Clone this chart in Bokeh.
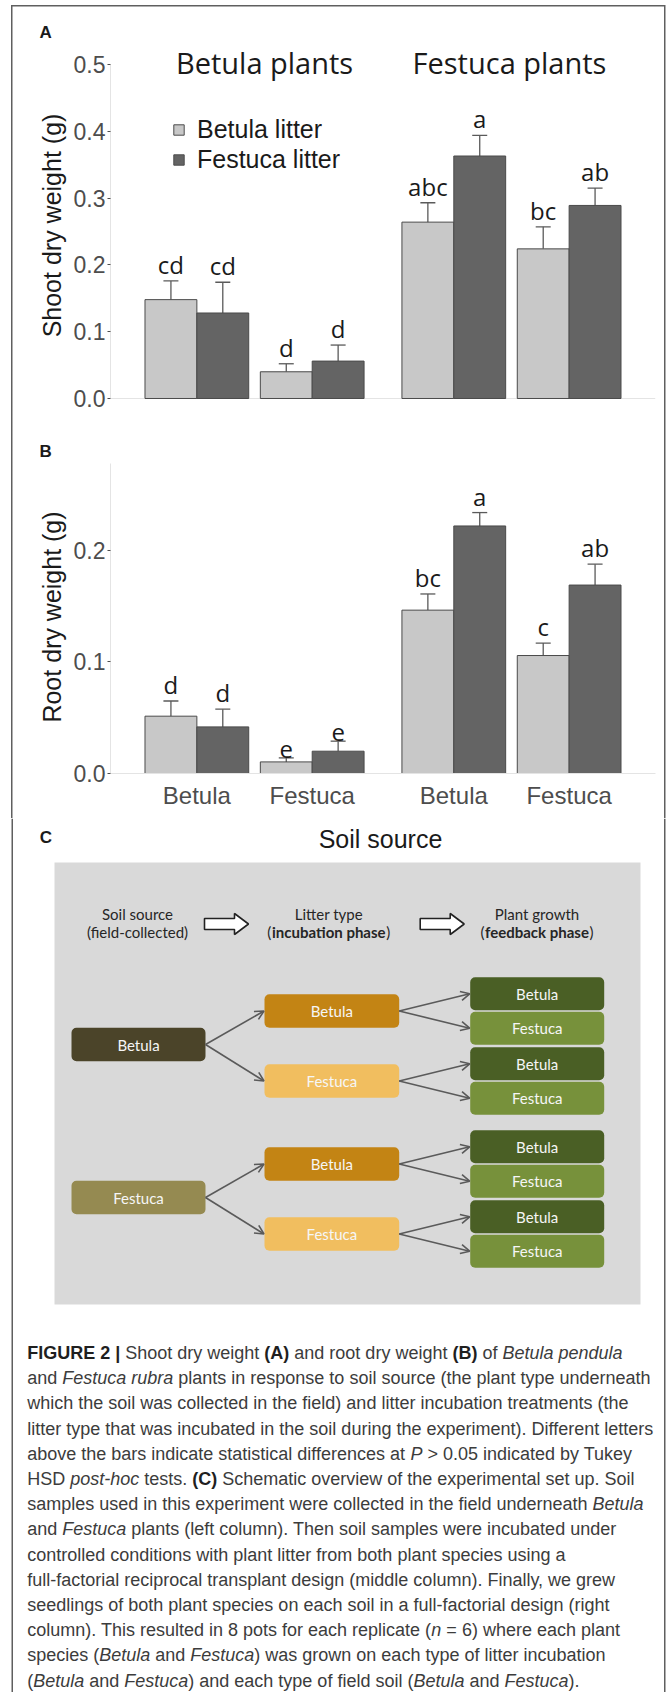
import math
from bokeh.plotting import figure
from bokeh.models import (ColumnDataSource, FactorRange, Range1d, FixedTicker, Legend,
                          LegendItem, Whisker, TeeHead, Arrow, OpenHead, Span, Title,
                          NumeralTickFormatter)
from bokeh.transform import dodge
from bokeh.core.properties import value
from bokeh.embed import file_html
from bokeh.resources import INLINE

# ---------------- data ----------------
plants = ["Betula plants", "Festuca plants"]
soils = ["Betula", "Festuca"]
litter_types = ["Betula litter", "Festuca litter"]

shoot_betula = [0.148, 0.040, 0.264, 0.224]
shoot_betula_se = [0.028, 0.012, 0.029, 0.033]
shoot_festuca = [0.128, 0.056, 0.363, 0.289]
shoot_festuca_se = [0.046, 0.024, 0.031, 0.026]
shoot_letters_betula = ["cd", "d", "abc", "bc"]
shoot_letters_festuca = ["cd", "d", "a", "ab"]
shoot_ticks = [0.0, 0.1, 0.2, 0.3, 0.4, 0.5]
shoot_axis_top = 0.5

root_betula = [0.0514, 0.0104, 0.1465, 0.1058]
root_betula_se = [0.0136, 0.0036, 0.0145, 0.0112]
root_festuca = [0.0418, 0.0200, 0.2220, 0.1690]
root_festuca_se = [0.0159, 0.0090, 0.0120, 0.0187]
root_letters_betula = ["d", "e", "bc", "c"]
root_letters_festuca = ["d", "e", "a", "ab"]
root_ticks = [0.0, 0.1, 0.2]
root_axis_top = 0.278

# ---------------- styles ----------------
LIGHT = "#c8c8c8"
DARK = "#646464"
EDGE = "#4a4a4a"
ERR = "#5a5a5a"
TICK = "#4d4d4d"
INK = "#1a1a1a"
AXLINE = "#e4e4e4"
FRAME = "#5f5f5f"
FIG_W = 667

factors = [(pl, so) for pl in plants for so in soils]
OFF = 0.2473
BW = 0.4946


def frame_css(with_top):
    g = f"linear-gradient({FRAME},{FRAME})"
    top = "5px" if with_top else "0px"
    hh = "calc(100% - 5px)" if with_top else "100%"
    imgs = [g, g]
    sizes = [f"1.5px {hh}", f"1.5px {hh}"]
    poss = [f"11px {top}", f"663.5px {top}"]
    if with_top:
        imgs.append(g)
        sizes.append("654px 1.5px")
        poss.append("11px 5px")
    return {"background-image": ", ".join(imgs), "background-size": ", ".join(sizes),
            "background-position": ", ".join(poss), "background-repeat": "no-repeat"}


def make_xrange():
    return FactorRange(factors=factors, factor_padding=0.1, group_padding=0.3504,
                       range_padding=0.3236, range_padding_units="absolute")


def add_bars(p, light, light_se, dark, dark_se, lab_l, lab_d):
    src = ColumnDataSource(dict(
        x=factors, light=light, dark=dark,
        light_top=[v + e for v, e in zip(light, light_se)],
        dark_top=[v + e for v, e in zip(dark, dark_se)],
        lab_l=lab_l, lab_d=lab_d))
    rl = p.vbar(x=dodge('x', -OFF, range=p.x_range), top='light', width=BW, source=src,
                fill_color=LIGHT, line_color=EDGE, line_width=1)
    rd = p.vbar(x=dodge('x', OFF, range=p.x_range), top='dark', width=BW, source=src,
                fill_color=DARK, line_color=EDGE, line_width=1)
    for o, lo, hi, lab in ((-OFF, 'light', 'light_top', 'lab_l'), (OFF, 'dark', 'dark_top', 'lab_d')):
        p.add_layout(Whisker(source=src, base=dodge('x', o, range=p.x_range), lower=lo, upper=hi,
                             lower_head=None,
                             upper_head=TeeHead(size=15, line_color=ERR, line_width=1.3),
                             line_color=ERR, line_width=1.3))
        p.text(x=dodge('x', o, range=p.x_range), y=hi, text=lab, source=src,
               text_align='center', text_baseline='bottom', text_font=value("Open Sans"),
               text_font_size="24px", text_color=INK)
    return rl, rd


def style_y(p, ticks, top):
    ax = p.yaxis[0]
    ax.ticker = FixedTicker(ticks=ticks)
    ax.formatter = NumeralTickFormatter(format="0.0")
    ax.bounds = (0, top)
    ax.axis_line_color = AXLINE
    ax.axis_line_width = 1
    ax.major_tick_out = 3
    ax.major_tick_in = 0
    ax.major_tick_line_color = TICK
    ax.minor_tick_line_color = None
    ax.major_label_text_font = "Liberation Sans"
    ax.major_label_text_font_size = "23px"
    ax.major_label_text_color = TICK
    ax.major_label_standoff = 2


def panel_letter(p, letter, standoff):
    p.title.text = letter
    p.title.align = "left"
    p.title.offset = -71
    p.title.standoff = standoff
    p.title.vertical_align = "bottom"
    p.title.text_font = "Liberation Sans"
    p.title.text_font_size = "17px"
    p.title.text_font_style = "bold"
    p.title.text_color = INK


def y_title(p, text, offset):
    p.add_layout(Title(text=text, align="center", offset=offset, text_font="Liberation Sans",
                       text_font_size="25px", text_font_style="normal", text_color=INK,
                       standoff=10), 'left')


def base_fig(height, y_range, with_top, **kw):
    p = figure(width=FIG_W, height=height, x_range=make_xrange(), y_range=y_range,
               output_backend="svg", toolbar_location=None, title="",
               min_border_left=110, min_border_right=12,
               outline_line_color=None, **kw)
    p.grid.visible = False
    p.background_fill_alpha = 0
    p.border_fill_alpha = 0
    p.styles = frame_css(with_top)
    return p


# ---------------- panel A (page y 0..412, frame 38..412) ----------------
pA = base_fig(412, Range1d(-0.02096, 0.5389), True, x_axis_location=None,
              min_border_top=38, min_border_bottom=0)
style_y(pA, shoot_ticks, shoot_axis_top)
panel_letter(pA, "A", -7)
y_title(pA, "Shoot dry weight (g)", -24.5)
pA.add_layout(Span(location=0, dimension='width', line_color=AXLINE, line_width=1, level='underlay'))
rl, rd = add_bars(pA, shoot_betula, shoot_betula_se, shoot_festuca, shoot_festuca_se,
                  shoot_letters_betula, shoot_letters_festuca)
pA.text(x=plants, y=[0.5034, 0.5034], text=plants, x_offset=[10, -2],
        text_align='center', text_baseline='alphabetic', text_font=value("Open Sans"),
        text_font_size="29px", text_color=INK)
legend = Legend(items=[LegendItem(label=litter_types[0], renderers=[rl]),
                       LegendItem(label=litter_types[1], renderers=[rd])],
                location=(62, 238), orientation="vertical", background_fill_alpha=0,
                border_line_color=None, glyph_width=13, glyph_height=13, label_standoff=12,
                label_text_font="Liberation Sans", label_text_font_size="25px",
                label_text_color=INK, padding=0, margin=0, spacing=1)
pA.add_layout(legend, 'center')

# ---------------- panel B (page y 412..818, frame 460..773) ----------------
pB = base_fig(406, Range1d(0, 0.2807), False, x_axis_location="below",
              min_border_top=48, min_border_bottom=45)
style_y(pB, root_ticks, root_axis_top)
panel_letter(pB, "B", 0)
y_title(pB, "Root dry weight (g)", -33.5)
add_bars(pB, root_betula, root_betula_se, root_festuca, root_festuca_se,
         root_letters_betula, root_letters_festuca)
xa = pB.xaxis[0]
xa.axis_line_color = AXLINE
xa.major_tick_line_color = None
xa.major_tick_out = 0
xa.major_tick_in = 0
xa.major_label_standoff = 8
xa.major_label_text_font = "Liberation Sans"
xa.major_label_text_font_size = "24px"
xa.major_label_text_color = TICK
xa.group_text_font_size = "1px"
xa.group_text_color = None
xa.separator_line_color = None

# ---------------- panel C (schematic) + caption, page-pixel coordinates ----------------
C_TOP, C_BOT = 818, 1692
pC = figure(width=FIG_W, height=C_BOT - C_TOP, x_range=Range1d(0, FIG_W),
            y_range=Range1d(C_BOT, C_TOP), output_backend="svg", toolbar_location=None,
            x_axis_location=None, y_axis_location=None, min_border=0, outline_line_color=None)
pC.grid.visible = False

# outer frame lines continuing down the page
pC.segment(x0=[11.75, 664.25], y0=[C_TOP, C_TOP], x1=[11.75, 664.25], y1=[C_BOT, C_BOT],
           line_color=FRAME, line_width=1.5)

# x-axis title of panel B and the panel letter C
pC.text(x=[380], y=[838], text=["Soil source"], text_align='center', text_baseline='alphabetic',
        text_font=value("Liberation Sans"), text_font_size="25px", text_color=INK)
pC.text(x=[39.3], y=[837.3], text=["C"], text_align='left', text_baseline='alphabetic',
        text_font=value("Liberation Sans"), text_font_style="bold", text_font_size="17px",
        text_color=INK)

pC.quad(left=[54], right=[640], top=[862], bottom=[1304], fill_color="#d9d9d9", line_color=None)

soil_colors = {"Betula": "#4b4429", "Festuca": "#958a51"}
litter_colors = {"Betula": "#c38414", "Festuca": "#f1be5f"}
plant_colors = {"Betula": "#4a5f25", "Festuca": "#77913b"}

COLX = [(71, 205), (264, 398.7), (469.7, 603.7)]
SOIL_CY = [1044, 1197]
LIT_DY, LIT_SHIFT, PLANT_DY = 35, 1.5, 17.2
BOX_H, PBOX_H = 33.5, 33.0

boxes = dict(l=[], r=[], t=[], b=[], c=[], cx=[], cy=[], lab=[])
arrows = dict(x0=[], y0=[], x1=[], y1=[])


def add_box(col, cy, h, color, lab):
    l, r = COLX[col]
    boxes['l'].append(l); boxes['r'].append(r)
    boxes['t'].append(cy - h / 2); boxes['b'].append(cy + h / 2)
    boxes['c'].append(color); boxes['cx'].append((l + r) / 2); boxes['cy'].append(cy)
    boxes['lab'].append(lab)


for i, s in enumerate(soils):
    cy = SOIL_CY[i]
    add_box(0, cy, BOX_H, soil_colors[s], s)
    for j, lt in enumerate(soils):
        cyl = cy + LIT_SHIFT + (2 * j - 1) * LIT_DY
        add_box(1, cyl, BOX_H, litter_colors[lt], lt)
        arrows['x0'].append(COLX[0][1]); arrows['y0'].append(cy)
        arrows['x1'].append(COLX[1][0] - 0.5); arrows['y1'].append(cyl)
        for k, pl in enumerate(soils):
            cyp = cyl + (2 * k - 1) * PLANT_DY
            add_box(2, cyp, PBOX_H, plant_colors[pl], pl)
            arrows['x0'].append(COLX[1][1]); arrows['y0'].append(cyl)
            arrows['x1'].append(COLX[2][0] - 0.5); arrows['y1'].append(cyp)

bsrc = ColumnDataSource(boxes)
br = pC.quad(left='l', right='r', top='t', bottom='b', fill_color='c', line_color=None, source=bsrc)
if hasattr(br.glyph, "border_radius"):
    br.glyph.border_radius = 5
pC.text(x='cx', y='cy', text='lab', source=bsrc, text_align='center', text_baseline='middle',
        text_font=value("Lato"), text_font_size="15px", text_color="#f6f6f6")
pC.add_layout(Arrow(source=ColumnDataSource(arrows), x_start='x0', y_start='y0', x_end='x1',
                    y_end='y1', line_color="#5a5a5a", line_width=1.6,
                    end=OpenHead(size=9, line_color="#5a5a5a", line_width=1.6)))

# header
HEAD_CX = [137, 328.3, 536.5]
head1 = ["Soil source", "Litter type", "Plant growth"]
pC.text(x=HEAD_CX, y=[913.3] * 3, text=head1, text_align='center', text_baseline='alphabetic',
        text_font=value("Lato"), text_font_size="15px", text_color="#262626")
pC.text(x=[HEAD_CX[0]], y=[931.7], text=["(field-collected)"], text_align='center',
        text_baseline='alphabetic', text_font=value("Lato"), text_font_size="15px",
        text_color="#262626")
bold_heads = ["incubation phase", "feedback phase"]
bold_w = [114, 104]
pC.text(x=HEAD_CX[1:], y=[931.7] * 2, text=bold_heads, text_align='center',
        text_baseline='alphabetic', text_font=value("Lato"), text_font_style="bold",
        text_font_size="15px", text_color="#262626")
pC.text(x=[c - w / 2 - 0.5 for c, w in zip(HEAD_CX[1:], bold_w)], y=[931.7] * 2, text=["(", "("],
        text_align='right', text_baseline='alphabetic', text_font=value("Lato"),
        text_font_size="15px", text_color="#262626")
pC.text(x=[c + w / 2 + 0.5 for c, w in zip(HEAD_CX[1:], bold_w)], y=[931.7] * 2, text=[")", ")"],
        text_align='left', text_baseline='alphabetic', text_font=value("Lato"),
        text_font_size="15px", text_color="#262626")

# block arrows in header
ARR_X0 = [204, 419.7]
ACY = 923.5
xs, ys = [], []
for x0 in ARR_X0:
    xs.append([x0, x0 + 30, x0 + 30, x0 + 44, x0 + 30, x0 + 30, x0])
    ys.append([ACY - 5.5, ACY - 5.5, ACY - 10.5, ACY, ACY + 10.5, ACY + 5.5, ACY + 5.5])
pC.patches(xs=xs, ys=ys, fill_color="#ffffff", line_color="#222222", line_width=1.6)

# caption
_W_REG = {' ': 278, '(': 333, ')': 333, ',': 278, '-': 333, '.': 278, '>': 584, '=': 584,
          '|': 260, ':': 278, ';': 278}
for d in "0123456789":
    _W_REG[d] = 556
_W_REG.update(dict(zip("ABCDEFGHIJKLMNOPQRSTUVWXYZ",
                       [667, 667, 722, 722, 667, 611, 778, 722, 278, 500, 667, 556, 833, 722, 778,
                        667, 778, 722, 667, 611, 722, 667, 944, 667, 667, 611])))
_W_REG.update(dict(zip("abcdefghijklmnopqrstuvwxyz",
                       [556, 556, 500, 556, 556, 278, 556, 556, 222, 222, 500, 222, 833, 556, 556,
                        556, 556, 333, 500, 278, 556, 500, 722, 500, 500, 500])))
_W_BOLD = {' ': 278, '(': 333, ')': 333, '|': 280}
for d in "0123456789":
    _W_BOLD[d] = 556
_W_BOLD.update(dict(zip("ABCDEFGHIJKLMNOPQRSTUVWXYZ",
                        [722, 722, 722, 722, 667, 611, 778, 722, 278, 556, 722, 611, 833, 722, 778,
                         667, 778, 722, 667, 611, 722, 667, 944, 667, 667, 611])))


def text_w(s, bold, size):
    t = _W_BOLD if bold else _W_REG
    return sum(t.get(ch, 556) for ch in s) * size / 1000.0


caption_lines = [
    [("FIGURE 2 | ", "b"), ("Shoot dry weight ", "n"), ("(A)", "b"), (" and root dry weight ", "n"),
     ("(B)", "b"), (" of ", "n"), ("Betula pendula", "i")],
    [("and ", "n"), ("Festuca rubra", "i"),
     (" plants in response to soil source (the plant type underneath", "n")],
    [("which the soil was collected in the field) and litter incubation treatments (the", "n")],
    [("litter type that was incubated in the soil during the experiment). Different letters", "n")],
    [("above the bars indicate statistical differences at ", "n"), ("P", "i"),
     (" > 0.05 indicated by Tukey", "n")],
    [("HSD ", "n"), ("post-hoc", "i"), (" tests. ", "n"), ("(C)", "b"),
     (" Schematic overview of the experimental set up. Soil", "n")],
    [("samples used in this experiment were collected in the field underneath ", "n"),
     ("Betula", "i")],
    [("and ", "n"), ("Festuca", "i"),
     (" plants (left column). Then soil samples were incubated under", "n")],
    [("controlled conditions with plant litter from both plant species using a", "n")],
    [("full-factorial reciprocal transplant design (middle column). Finally, we grew", "n")],
    [("seedlings of both plant species on each soil in a full-factorial design (right", "n")],
    [("column). This resulted in 8 pots for each replicate (", "n"), ("n", "i"),
     (" = 6) where each plant", "n")],
    [("species (", "n"), ("Betula", "i"), (" and ", "n"), ("Festuca", "i"),
     (") was grown on each type of litter incubation", "n")],
    [("(", "n"), ("Betula", "i"), (" and ", "n"), ("Festuca", "i"),
     (") and each type of field soil (", "n"), ("Betula", "i"), (" and ", "n"), ("Festuca", "i"),
     (").", "n")],
]
CAP_X, CAP_Y0, CAP_DY, CAP_SIZE = 26.7, 1352.5, 25.2, 18
runs = {k: dict(x=[], y=[], t=[]) for k in ("n", "b", "i")}
for li, segs in enumerate(caption_lines):
    x = CAP_X
    y = CAP_Y0 + li * CAP_DY
    for txt, st in segs:
        bold = st == "b"
        lead = len(txt) - len(txt.lstrip(' '))
        core = txt.strip(' ')
        if core:
            runs[st]['x'].append(x + text_w(' ' * lead, bold, CAP_SIZE))
            runs[st]['y'].append(y)
            runs[st]['t'].append(core)
        x += text_w(txt, bold, CAP_SIZE)
for st, style, col in (("n", "normal", "#3c3c3c"), ("b", "bold", "#1f1f1f"), ("i", "italic", "#3c3c3c")):
    pC.text(x=runs[st]['x'], y=runs[st]['y'], text=runs[st]['t'], text_align='left',
            text_baseline='alphabetic', text_font=value("Liberation Sans"), text_font_style=style,
            text_font_size=f"{CAP_SIZE}px", text_color=col)

open("out.html", "w").write(file_html([pA, pB, pC], INLINE, title="Figure 2"))
